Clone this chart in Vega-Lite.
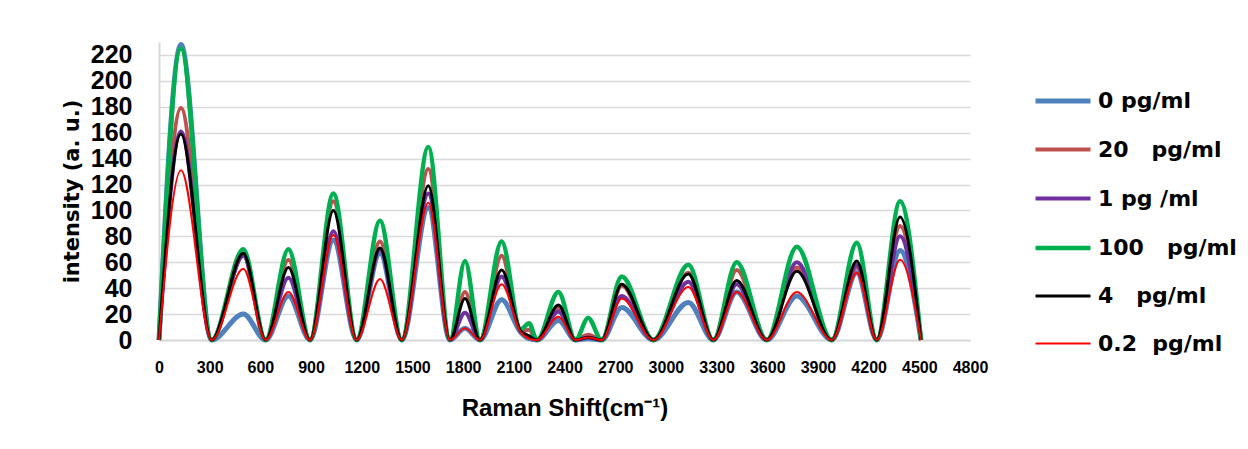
{
  "$schema": "https://vega.github.io/schema/vega-lite/v6.json",
  "width": 811,
  "height": 298,
  "autosize": {"type": "none"},
  "padding": {"left": 159, "top": 42, "right": 278, "bottom": 109},
  "background": "white",
  "config": {"view": {"stroke": null}},
  "data": {
    "values": [
      {"x": 0, "a": 0, "b": 0, "c": 0, "d": 0, "e": 0, "f": 0},
      {"x": 130, "a": 228, "b": 179, "c": 161, "d": 225, "e": 159, "f": 131},
      {"x": 312, "a": 0, "b": 0, "c": 0, "d": 0, "e": 0, "f": 0},
      {"x": 499, "a": 20, "b": 66, "c": 65, "d": 70, "e": 67, "f": 55},
      {"x": 631, "a": 0, "b": 0, "c": 0, "d": 0, "e": 0, "f": 0},
      {"x": 766, "a": 34, "b": 62, "c": 48, "d": 70, "e": 56, "f": 37},
      {"x": 894, "a": 0, "b": 0, "c": 0, "d": 0, "e": 0, "f": 0},
      {"x": 1032, "a": 77, "b": 107, "c": 84, "d": 113, "e": 100, "f": 81},
      {"x": 1170, "a": 0, "b": 0, "c": 0, "d": 0, "e": 0, "f": 0},
      {"x": 1308, "a": 67, "b": 76, "c": 70, "d": 92, "e": 71, "f": 47},
      {"x": 1437, "a": 0, "b": 0, "c": 0, "d": 0, "e": 0, "f": 0},
      {"x": 1594, "a": 102, "b": 132, "c": 113, "d": 149, "e": 119, "f": 106},
      {"x": 1722, "a": 0, "b": 0, "c": 0, "d": 0, "e": 0, "f": 0},
      {"x": 1811, "a": 9, "b": 37, "c": 21, "d": 61, "e": 32, "f": 9},
      {"x": 1900, "a": 0, "b": 0, "c": 0, "d": 0, "e": 0, "f": 0},
      {"x": 2028, "a": 31, "b": 65, "c": 49, "d": 76, "e": 54, "f": 43},
      {"x": 2140, "a": 6, "b": 7, "c": 7, "d": 8, "e": 7, "f": 6},
      {"x": 2190, "a": 1, "b": 8, "c": 3, "d": 13, "e": 3, "f": 1},
      {"x": 2237, "a": 0, "b": 0, "c": 0, "d": 0, "e": 0, "f": 0},
      {"x": 2364, "a": 15, "b": 25, "c": 22, "d": 37, "e": 27, "f": 18},
      {"x": 2465, "a": 0, "b": 0, "c": 0, "d": 0, "e": 0, "f": 0},
      {"x": 2540, "a": 1, "b": 4, "c": 2, "d": 17, "e": 2, "f": 2},
      {"x": 2620, "a": 0, "b": 0, "c": 0, "d": 0, "e": 0, "f": 0},
      {"x": 2739, "a": 25, "b": 42, "c": 34, "d": 49, "e": 43, "f": 32},
      {"x": 2926, "a": 0, "b": 0, "c": 0, "d": 0, "e": 0, "f": 0},
      {"x": 3133, "a": 29, "b": 52, "c": 45, "d": 58, "e": 51, "f": 41},
      {"x": 3281, "a": 0, "b": 0, "c": 0, "d": 0, "e": 0, "f": 0},
      {"x": 3419, "a": 37, "b": 54, "c": 43, "d": 60, "e": 46, "f": 37},
      {"x": 3597, "a": 0, "b": 0, "c": 0, "d": 0, "e": 0, "f": 0},
      {"x": 3775, "a": 34, "b": 56, "c": 60, "d": 72, "e": 53, "f": 37},
      {"x": 3982, "a": 0, "b": 0, "c": 0, "d": 0, "e": 0, "f": 0},
      {"x": 4130, "a": 52, "b": 56, "c": 58, "d": 75, "e": 61, "f": 52},
      {"x": 4248, "a": 0, "b": 0, "c": 0, "d": 0, "e": 0, "f": 0},
      {"x": 4386, "a": 69, "b": 88, "c": 80, "d": 107, "e": 95, "f": 62},
      {"x": 4510, "a": 0, "b": 0, "c": 0, "d": 0, "e": 0, "f": 0}
    ]
  },
  "transform": [{"fold": ["a", "b", "c", "d", "e", "f"], "as": ["s", "y"]}],
  "mark": {"type": "line", "interpolate": "monotone"},
  "encoding": {
    "x": {
      "field": "x", "type": "quantitative",
      "scale": {"domain": [0, 4800], "nice": false, "zero": false},
      "axis": {
        "values": [0, 300, 600, 900, 1200, 1500, 1800, 2100, 2400, 2700, 3000, 3300, 3600, 3900, 4200, 4500, 4800],
        "format": "d",
        "grid": false, "ticks": false, "domain": true, "domainColor": "#D9D9D9", "domainWidth": 2,
        "labelFont": "Liberation Sans", "labelFontSize": 16, "labelFontWeight": "bold", "labelColor": "#000000",
        "labelPadding": 19, "labelFlush": false, "labelOverlap": false,
        "title": "Raman Shift(cm⁻¹)", "titleFont": "Liberation Sans", "titleFontSize": 24, "titleFontWeight": "bold", "titleColor": "#000000", "titlePadding": 21
      }
    },
    "y": {
      "field": "y", "type": "quantitative",
      "scale": {"domain": [0, 230], "nice": false},
      "axis": {
        "values": [0, 20, 40, 60, 80, 100, 120, 140, 160, 180, 200, 220],
        "grid": true, "gridColor": "#D9D9D9", "gridWidth": 1.5, "ticks": false,
        "domain": true, "domainColor": "#D9D9D9", "domainWidth": 2,
        "labelFont": "Liberation Sans", "labelFontSize": 25, "labelFontWeight": "bold", "labelColor": "#000000",
        "labelPadding": 27, "labelOverlap": false,
        "title": "intensity (a. u.)", "titleFont": "DejaVu Sans", "titleFontSize": 21, "titleFontWeight": "bold", "titleColor": "#000000", "titlePadding": 8
      }
    },
    "color": {
      "field": "s", "type": "nominal",
      "scale": {"domain": ["a", "b", "c", "d", "e", "f"], "range": ["#4F81BD", "#C0504D", "#7030A0", "#00B050", "#000000", "#FF0000"]},
      "legend": {
        "title": null, "orient": "none", "legendX": 874, "legendY": 29,
        "symbolType": "stroke", "symbolSize": 3025,
        "labelFont": "DejaVu Sans", "labelFontSize": 22, "labelFontWeight": "bold", "labelColor": "#000000",
        "labelOffset": 5, "rowPadding": 8, "labelLimit": 400,
        "labelExpr": "datum.value=='a' ? '0 pg/ml' : datum.value=='b' ? '20\u00a0\u00a0 pg/ml' : datum.value=='c' ? '1 pg /ml' : datum.value=='d' ? '100\u00a0\u00a0 pg/ml' : datum.value=='e' ? '4\u00a0\u00a0 pg/ml' : '0.2\u00a0 pg/ml'"
      }
    },
    "strokeWidth": {
      "field": "s", "type": "ordinal",
      "scale": {"type": "ordinal", "domain": ["a", "b", "c", "d", "e", "f"], "range": [5, 4, 4, 4.5, 3, 2]}
    }
  }
}
